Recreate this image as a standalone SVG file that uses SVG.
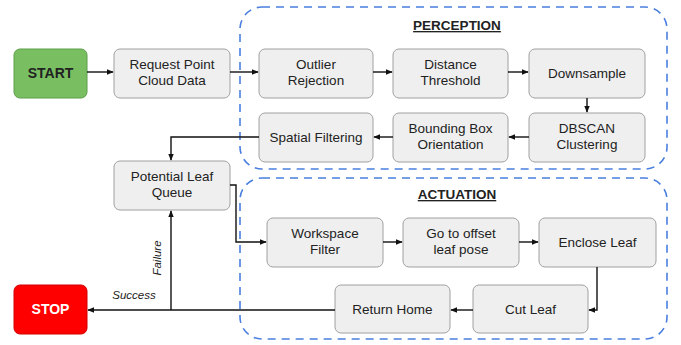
<svg xmlns="http://www.w3.org/2000/svg" width="681" height="345" viewBox="0 0 681 345">
<style>
.node{fill:#efefef;stroke:#a0a0a0;stroke-width:1}
.t{font-family:"Liberation Sans",Arial,sans-serif;font-size:13.5px;fill:#222;text-anchor:middle}
.title{font-family:"Liberation Sans",Arial,sans-serif;font-size:13.5px;font-weight:bold;fill:#222;text-anchor:middle;text-decoration:underline}
.lbl{font-family:"Liberation Sans",Arial,sans-serif;font-size:11.5px;font-style:italic;fill:#222;text-anchor:middle}
.grp{fill:none;stroke:#4a7fe0;stroke-width:1.6;stroke-dasharray:8 6}
.c{fill:none;stroke:#111;stroke-width:1.4}
</style>
<defs>
<marker id="ah" viewBox="0 0 10 10" refX="9" refY="5" markerWidth="7" markerHeight="7" markerUnits="userSpaceOnUse" orient="auto">
<path d="M0,1 L10,5 L0,9 Z" fill="#111"/>
</marker>
</defs>
<rect width="681" height="345" fill="#fff"/>
<g id="perception">
<rect class="grp" x="240" y="7" width="427" height="162" rx="22"/>
<text class="title" x="457" y="30">PERCEPTION</text>
</g>
<g id="actuation">
<rect class="grp" x="240" y="178" width="427" height="161" rx="22"/>
<text class="title" x="457" y="199">ACTUATION</text>
</g>
<g id="start">
<rect x="14" y="49" width="73" height="49" rx="6" fill="#79bf62" stroke="#5d9e48"/>
<text class="t" x="50.5" y="78" font-weight="bold" style="font-size:14px">START</text>
</g>
<g id="request">
<rect class="node" x="114" y="49" width="116" height="49" rx="6"/>
<text class="t" x="172" y="69">Request Point</text>
<text class="t" x="172" y="85">Cloud Data</text>
</g>
<g id="outlier">
<rect class="node" x="259" y="49" width="114" height="49" rx="6"/>
<text class="t" x="316" y="69">Outlier</text>
<text class="t" x="316" y="85">Rejection</text>
</g>
<g id="distance">
<rect class="node" x="393" y="49" width="115" height="49" rx="6"/>
<text class="t" x="450.5" y="69">Distance</text>
<text class="t" x="450.5" y="85">Threshold</text>
</g>
<g id="downsample">
<rect class="node" x="529" y="49" width="116" height="49" rx="6"/>
<text class="t" x="587" y="78">Downsample</text>
</g>
<g id="dbscan">
<rect class="node" x="529" y="113" width="116" height="49" rx="6"/>
<text class="t" x="587" y="133">DBSCAN</text>
<text class="t" x="587" y="149">Clustering</text>
</g>
<g id="bbox">
<rect class="node" x="393" y="113" width="115" height="49" rx="6"/>
<text class="t" x="450.5" y="133">Bounding Box</text>
<text class="t" x="450.5" y="149">Orientation</text>
</g>
<g id="spatial">
<rect class="node" x="259" y="113" width="114" height="49" rx="6"/>
<text class="t" x="316" y="142">Spatial Filtering</text>
</g>
<g id="queue">
<rect class="node" x="114" y="161" width="116" height="49" rx="6"/>
<text class="t" x="172" y="181">Potential Leaf</text>
<text class="t" x="172" y="197">Queue</text>
</g>
<g id="workspace">
<rect class="node" x="267" y="218" width="116" height="49" rx="6"/>
<text class="t" x="325" y="238">Workspace</text>
<text class="t" x="325" y="254">Filter</text>
</g>
<g id="goto">
<rect class="node" x="403" y="218" width="116" height="49" rx="6"/>
<text class="t" x="461" y="238">Go to offset</text>
<text class="t" x="461" y="254">leaf pose</text>
</g>
<g id="enclose">
<rect class="node" x="539" y="218" width="117" height="49" rx="6"/>
<text class="t" x="597.5" y="247">Enclose Leaf</text>
</g>
<g id="cut">
<rect class="node" x="473" y="285" width="115" height="48" rx="6"/>
<text class="t" x="530.5" y="314">Cut Leaf</text>
</g>
<g id="return">
<rect class="node" x="335" y="285" width="115" height="48" rx="6"/>
<text class="t" x="392.5" y="314">Return Home</text>
</g>
<g id="stop">
<rect x="14" y="285" width="73" height="49" rx="6" fill="#ff0000" stroke="#d00000"/>
<text class="t" x="50.5" y="314" font-weight="bold" style="fill:#fff;font-size:14px">STOP</text>
</g>
<g id="connectors">
<path class="c" marker-end="url(#ah)" d="M87,72 H113"/>
<path class="c" marker-end="url(#ah)" d="M230,72 H258"/>
<path class="c" marker-end="url(#ah)" d="M373,72 H392"/>
<path class="c" marker-end="url(#ah)" d="M508,72 H528"/>
<path class="c" marker-end="url(#ah)" d="M587,98 V112"/>
<path class="c" marker-end="url(#ah)" d="M529,137 H509"/>
<path class="c" marker-end="url(#ah)" d="M393,137 H374"/>
<path class="c" marker-end="url(#ah)" d="M259,137 H171 V160"/>
<path class="c" marker-end="url(#ah)" d="M230,185 H236 V242 H266"/>
<path class="c" marker-end="url(#ah)" d="M383,242 H402"/>
<path class="c" marker-end="url(#ah)" d="M519,242 H538"/>
<path class="c" marker-end="url(#ah)" d="M597,267 V310 H589"/>
<path class="c" marker-end="url(#ah)" d="M473,310 H451"/>
<path class="c" marker-end="url(#ah)" d="M335,310 H88"/>
<path class="c" marker-end="url(#ah)" d="M171,310 V211"/>
<text class="lbl" x="134" y="299">Success</text>
<text class="lbl" transform="translate(161,258) rotate(-90)">Failure</text>
</g>
</svg>
